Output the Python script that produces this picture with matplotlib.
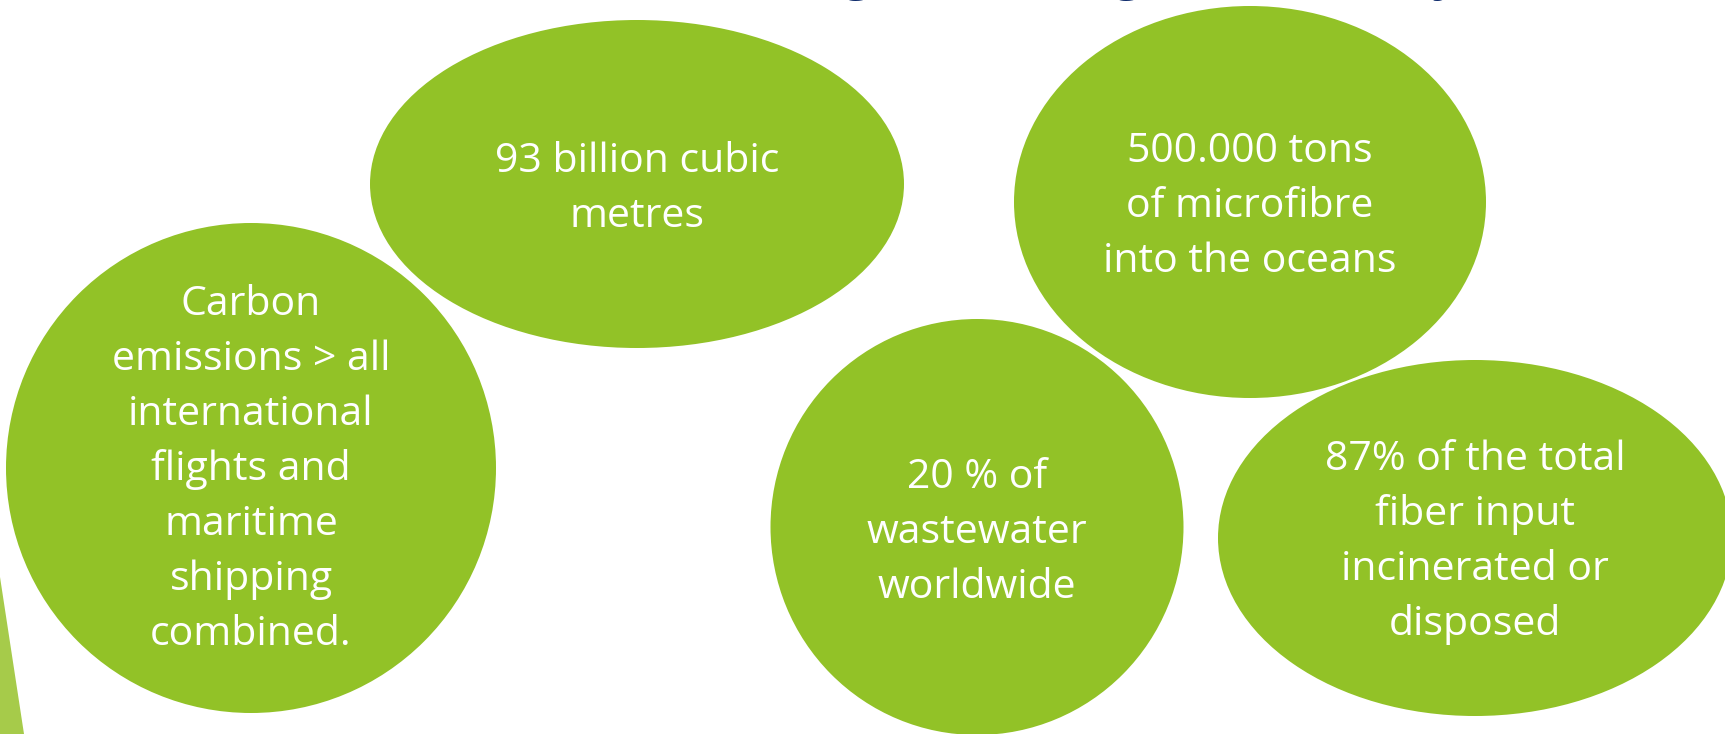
import matplotlib.pyplot as plt
from matplotlib.patches import Ellipse, Polygon
from matplotlib.textpath import TextToPath
from matplotlib.font_manager import FontProperties

# text of each bubble
carbon_lines = ["Carbon", "emissions > all", "international", "flights and",
                "maritime", "shipping", "combined."]
water_lines = ["93 billion cubic", "metres"]
microfibre_lines = ["500.000 tons", "of microfibre", "into the oceans"]
wastewater_lines = ["20 % of", "wastewater", "worldwide"]
fiber_lines = ["87% of the total", "fiber input", "incinerated or", "disposed"]
title = "Ecological damage of industry"

bubbles = [carbon_lines, water_lines, microfibre_lines, wastewater_lines, fiber_lines]

# layout in pixels: centre x, centre y, width, height, first baseline
layout = [
    (251, 468, 490, 490, 315),
    (637, 184, 534, 328, 172),
    (1250, 202, 472, 392, 162),
    (977, 527, 413, 416, 488),
    (1475, 538, 514, 356, 470),
]
line_step = 55

green = "#92c227"
light_green = "#a6cb4a"
navy = "#0d2a6b"

fig = plt.figure(figsize=(17.25, 7.34), dpi=100)
ax = fig.add_axes([0, 0, 1, 1])
ax.set_xlim(0, 1725)
ax.set_ylim(734, 0)
ax.axis("off")

# decorative sliver at the bottom left
ax.add_patch(Polygon([(0, 577), (24, 734), (0, 734)], closed=True,
                     facecolor=light_green, edgecolor="none"))

for lines, (cx, cy, w, h, base) in zip(bubbles, layout):
    ax.add_patch(Ellipse((cx, cy), w, h, facecolor=green, edgecolor="none"))
    for i, line in enumerate(lines):
        ax.text(cx, base + i * line_step, line, ha="center", va="baseline",
                color="white", fontsize=29.5, family="Open Sans")

# title sits above the visible area, only its descenders show;
# size it so the first "g" and the last "y" land where the slide has them
prop = FontProperties(family="Open Sans", weight="bold", size=10)
t2p = TextToPath()


def adv(s):
    return t2p.get_text_width_height_descent(s, prop, ismath=False)[0] * 100 / 72


i_g = title.index("g")
i_y = title.rindex("y")
c_g = adv(title[:i_g]) + adv("g") / 2
c_y = adv(title[:i_y]) + adv("y") / 2
k = (1447 - 858) / (c_y - c_g)
ax.text(858 - c_g * k, -11, title, ha="left", va="baseline", color=navy,
        fontsize=10 * k, fontweight="bold", family="Open Sans", clip_on=False)

fig.savefig("out.png", dpi=100)
